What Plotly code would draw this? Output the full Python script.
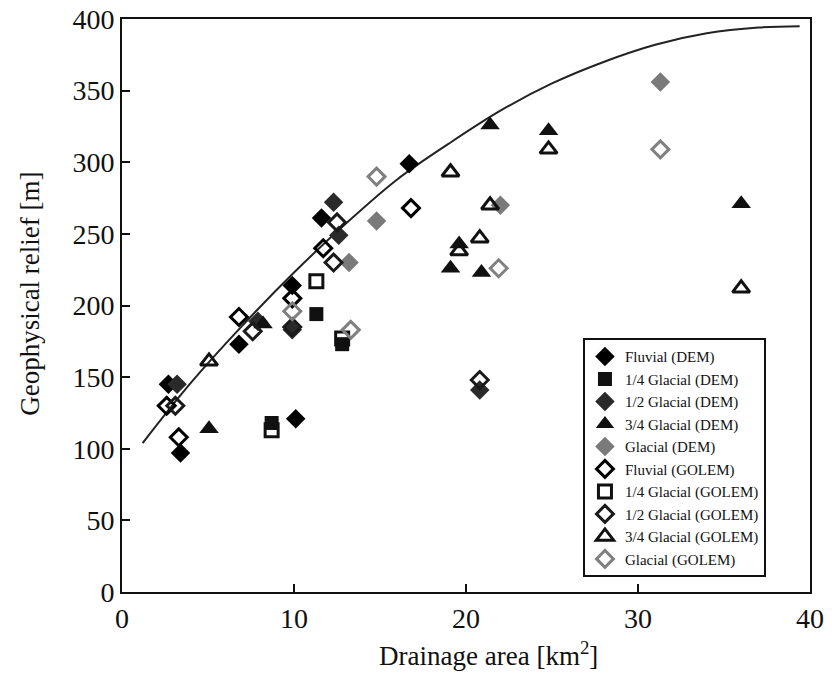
import plotly.graph_objects as go

# ---- data ----
fluvial_dem_x = [2.7, 3.4, 6.8, 9.9, 10.1, 11.6, 16.7]
fluvial_dem_y = [145, 97, 173, 214, 121, 261, 299]

q14_dem_x = [8.7, 11.3, 12.8]
q14_dem_y = [118, 194, 173]

q12_dem_x = [3.2, 7.9, 9.9, 12.3, 12.6, 20.8]
q12_dem_y = [145, 189, 183, 272, 249, 141]

q34_dem_x = [5.06, 8.2, 19.1, 19.6, 20.9, 21.4, 24.8, 36.0]
q34_dem_y = [114, 187, 226, 243, 223, 326, 322, 271]

glacial_dem_x = [13.2, 14.8, 22.0, 31.3]
glacial_dem_y = [230, 259, 270, 356]

fluvial_golem_x = [2.6, 3.3, 6.8, 9.9, 11.7, 16.8]
fluvial_golem_y = [130, 108, 192, 205, 240, 268]

q14_golem_x = [8.7, 11.3, 12.8]
q14_golem_y = [113, 217, 177]

q12_golem_x = [3.1, 7.6, 9.9, 12.5, 12.3, 20.8]
q12_golem_y = [130, 182, 185, 258, 230, 148]

q34_golem_x = [5.06, 19.1, 19.6, 20.8, 21.4, 24.8, 36.0]
q34_golem_y = [161, 293, 238, 247, 270, 309, 212]

glacial_golem_x = [9.9, 13.3, 14.8, 21.9, 31.3]
glacial_golem_y = [196, 183, 290, 226, 309]

curve_x = [1.2, 4, 7, 10, 13, 16, 19, 22, 25, 28, 31, 34, 37, 39.4]
curve_y = [104, 146, 186, 223, 257, 288, 313, 336, 355, 370, 382, 390, 394, 395]

x_title = "Drainage area [km<sup>2</sup>]"
y_title = "Geophysical relief [m]"

series = [
    ("Fluvial (DEM)", fluvial_dem_x, fluvial_dem_y, "diamond", "#000000"),
    ("1/4 Glacial (DEM)", q14_dem_x, q14_dem_y, "square", "#111111"),
    ("1/2 Glacial (DEM)", q12_dem_x, q12_dem_y, "diamond", "#2a2a2a"),
    ("3/4 Glacial (DEM)", q34_dem_x, q34_dem_y, "triangle-up", "#111111"),
    ("Glacial (DEM)", glacial_dem_x, glacial_dem_y, "diamond", "#7a7a7a"),
    ("Fluvial (GOLEM)", fluvial_golem_x, fluvial_golem_y, "diamond-open", "#000000"),
    ("1/4 Glacial (GOLEM)", q14_golem_x, q14_golem_y, "square-open", "#111111"),
    ("1/2 Glacial (GOLEM)", q12_golem_x, q12_golem_y, "diamond-open", "#1a1a1a"),
    ("3/4 Glacial (GOLEM)", q34_golem_x, q34_golem_y, "triangle-up-open", "#111111"),
    ("Glacial (GOLEM)", glacial_golem_x, glacial_golem_y, "diamond-open", "#808080"),
]

fig = go.Figure()
fig.add_trace(go.Scatter(x=curve_x, y=curve_y, mode="lines", line=dict(color="#222", width=2, shape="spline"),
                         showlegend=False, hoverinfo="skip"))

for name, xs, ys, sym, col in series:
    if sym.endswith("open"):
        size = 15 if sym.startswith("triangle") else 13
        mk = dict(symbol=sym, size=size, color=col, line=dict(width=3, color=col))
    else:
        size = {"diamond": 15, "square": 14, "triangle-up": 17}[sym]
        mk = dict(symbol=sym, size=size, color=col, line=dict(width=0))
    fig.add_trace(go.Scatter(x=xs, y=ys, mode="markers", name=name, marker=mk))

font_family = "Liberation Serif"
fig.update_layout(
    width=832, height=683,
    margin=dict(l=122, r=22, t=19, b=91, autoexpand=False),
    paper_bgcolor="white", plot_bgcolor="white",
    font=dict(family=font_family, color="#111"),
    xaxis=dict(range=[0, 40], tickvals=[0, 10, 20, 30, 40], ticks="inside", ticklen=8, tickwidth=2,
               tickcolor="#111", showline=True, linecolor="#111", linewidth=2, mirror=True, automargin=False,
               showgrid=False, zeroline=False, tickfont=dict(size=28, family=font_family)),
    yaxis=dict(range=[0, 400], tickvals=list(range(0, 401, 50)), ticks="inside", ticklen=8, tickwidth=2,
               tickcolor="#111", showline=True, linecolor="#111", linewidth=2, mirror=True, automargin=False,
               showgrid=False, zeroline=False, tickfont=dict(size=28, family=font_family)),
    legend=dict(x=0.67, y=0.443, xanchor="left", yanchor="top", bordercolor="#111", borderwidth=2,
                bgcolor="white", font=dict(size=15, family=font_family, color="#111"),
                itemwidth=30, tracegroupgap=0),
    annotations=[
        dict(text=x_title, xref="paper", yref="paper", x=0.532, y=-0.108, xanchor="center", yanchor="middle",
             showarrow=False, font=dict(size=27, family=font_family, color="#111")),
        dict(text=y_title, xref="paper", yref="paper", x=-0.134, y=0.52, xanchor="center", yanchor="middle",
             textangle=-90, showarrow=False, font=dict(size=27, family=font_family, color="#111")),
    ],
)

fig.write_html("out.html")
